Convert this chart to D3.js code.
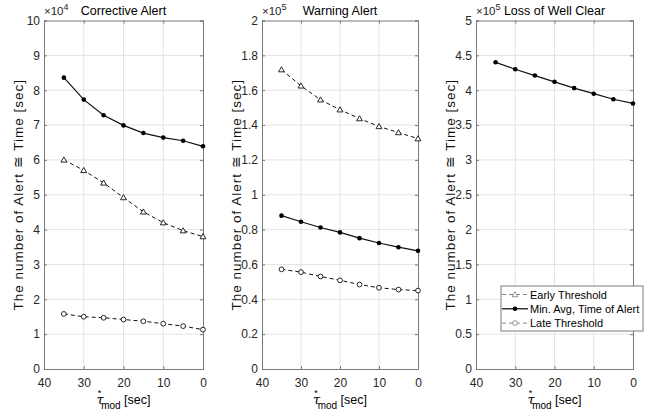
<!DOCTYPE html>
<meta charset="utf-8">
<style>
body { margin: 0; background: #fff; }
svg { font-family: "Liberation Sans", Arial, Helvetica, sans-serif; }
.grid line { stroke: #e3e3e3; stroke-width: 1; }
.axis text { fill: #262626; font-size: 12px; }
.axis line, .axis path { stroke: #7a7a7a; }
</style>
<svg width="660" height="416"></svg>
<script src="https://d3js.org/d3.v7.min.js"></script>
<script>

// tau* values (sec)
var tau = [35, 30, 25, 20, 15, 10, 5, 0];
var xTicks = [40, 30, 20, 10, 0];

// Corrective Alert (x 1e4)
var corrEarly = [6.00, 5.70, 5.34, 4.92, 4.51, 4.20, 3.97, 3.80];
var corrMin   = [8.36, 7.73, 7.28, 6.99, 6.77, 6.64, 6.55, 6.39];
var corrLate  = [1.58, 1.50, 1.47, 1.42, 1.37, 1.30, 1.23, 1.13];

// Warning Alert (x 1e5)
var warnEarly = [1.718, 1.625, 1.545, 1.488, 1.437, 1.392, 1.357, 1.322];
var warnMin   = [0.880, 0.845, 0.812, 0.784, 0.751, 0.723, 0.699, 0.678];
var warnLate  = [0.572, 0.556, 0.531, 0.509, 0.485, 0.466, 0.456, 0.450];

// Loss of Well Clear (x 1e5)
var lowcMin = [4.40, 4.30, 4.21, 4.12, 4.03, 3.95, 3.87, 3.81];

var titles = ["Corrective Alert", "Warning Alert", "Loss of Well Clear"];
var exponents = ["4", "5", "5"];
var yMax = [10, 2, 5];
var yStep = [1, 0.2, 0.5];
var legendNames = ["Early Threshold", "Min. Avg, Time of Alert", "Late Threshold"];

var panels = [
  { series: [{v: corrEarly, k: "early"}, {v: corrMin, k: "min"}, {v: corrLate, k: "late"}], left: 44, right: 203 },
  { series: [{v: warnEarly, k: "early"}, {v: warnMin, k: "min"}, {v: warnLate, k: "late"}], left: 262, right: 418 },
  { series: [{v: lowcMin, k: "min"}], left: 476, right: 633 }
];

var svg = d3.select("svg");
var plotTop = 20.5, plotBottom = 369;

var line = function(x, y) {
  return d3.line().x(function(d, i) { return x(tau[i]); }).y(function(d) { return y(d); });
};

function drawMarker(g, kind, cx, cy, col) {
  col = col || "#111";
  if (kind == "early") {
    g.append("path")
      .attr("d", d3.symbol().type(d3.symbolTriangle).size(15)())
      .attr("transform", "translate(" + cx + "," + (cy + 0.5) + ")")
      .attr("fill", "#fff").attr("stroke", col).attr("stroke-width", 0.9);
  } else if (kind == "late") {
    g.append("circle").attr("cx", cx).attr("cy", cy).attr("r", 2.4)
      .attr("fill", "#fff").attr("stroke", col).attr("stroke-width", 0.9);
  } else {
    g.append("circle").attr("cx", cx).attr("cy", cy).attr("r", 2.3)
      .attr("fill", "#000");
  }
}

panels.forEach(function(p, pi) {
  var x = d3.scaleLinear().domain([40, 0]).range([p.left, p.right]);
  var y = d3.scaleLinear().domain([0, yMax[pi]]).range([plotBottom, plotTop]);
  var yTicks = d3.range(0, yMax[pi] + yStep[pi] / 2, yStep[pi]);
  var g = svg.append("g");

  // grid
  var grid = g.append("g").attr("class", "grid");
  grid.selectAll(".gx").data(xTicks.slice(1, -1)).enter().append("line")
    .attr("x1", function(d) { return x(d); }).attr("x2", function(d) { return x(d); })
    .attr("y1", plotTop).attr("y2", plotBottom);
  grid.selectAll(".gy").data(yTicks.slice(1, -1)).enter().append("line")
    .attr("y1", function(d) { return y(d); }).attr("y2", function(d) { return y(d); })
    .attr("x1", p.left).attr("x2", p.right);

  // axes (ticks inward)
  var fmt = function(d) { return +d.toFixed(1) + ""; };
  g.append("g").attr("class", "axis").attr("transform", "translate(0," + plotBottom + ")")
    .call(d3.axisBottom(x).tickValues(xTicks).tickSize(-3).tickPadding(8))
    .call(function(s) { s.selectAll("text").attr("dy", "0.85em"); });
  g.append("g").attr("class", "axis").attr("transform", "translate(0," + plotTop + ")")
    .call(d3.axisTop(x).tickValues(xTicks).tickSize(-3).tickFormat(""));
  g.append("g").attr("class", "axis").attr("transform", "translate(" + p.left + ",0)")
    .call(d3.axisLeft(y).tickValues(yTicks).tickSize(-3).tickPadding(4).tickFormat(fmt));
  g.append("g").attr("class", "axis").attr("transform", "translate(" + p.right + ",0)")
    .call(d3.axisRight(y).tickValues(yTicks).tickSize(-3).tickFormat(""));

  // series
  p.series.forEach(function(s) {
    g.append("path").datum(s.v)
      .attr("d", line(x, y))
      .attr("fill", "none")
      .attr("stroke", "#111")
      .attr("stroke-width", s.k == "min" ? 1.2 : 1)
      .attr("stroke-dasharray", s.k == "min" ? null : "4,3");
    s.v.forEach(function(d, i) { drawMarker(g, s.k, x(tau[i]), y(d)); });
  });

  // exponent label
  var ex = g.append("text").attr("x", p.left).attr("y", 15)
    .attr("fill", "#262626").attr("font-size", "11.5px");
  ex.append("tspan").text("\u00d710");
  ex.append("tspan").attr("dy", -5).attr("font-size", "9px").text(exponents[pi]);

  // title
  g.append("text").attr("x", (p.left + p.right) / 2).attr("y", 15)
    .attr("text-anchor", "middle").attr("font-size", "12.5px").attr("fill", "#000")
    .text(titles[pi]);

  // y label
  g.append("text")
    .attr("transform", "translate(" + (p.left - 21) + "," + ((plotTop + plotBottom) / 2) + ") rotate(-90)")
    .attr("text-anchor", "middle").attr("font-size", "13.5px").attr("fill", "#111")
    .attr("letter-spacing", "1px")
    .text("The number of Alert  \u2245 Time [sec]");

  // x label: tau* with "mod" subscript
  var cx = (p.left + p.right) / 2;
  var xl = g.append("text").attr("x", cx).attr("y", 404)
    .attr("text-anchor", "middle").attr("fill", "#000");
  xl.append("tspan").attr("font-style", "italic").attr("font-size", "13px")
    .attr("font-family", "'DejaVu Serif', serif").text("\u03c4");
  xl.append("tspan").attr("dx", -6).attr("dy", -8).attr("font-size", "9px").text("*");
  xl.append("tspan").attr("dx", 0).attr("dy", 13).attr("font-size", "10px").text("mod");
  xl.append("tspan").attr("dy", -5).attr("font-size", "12.5px").text(" [sec]");
});

// legend in the third panel
var lg = svg.append("g").attr("transform", "translate(501,286)");
lg.append("rect").attr("width", 142).attr("height", 45)
  .attr("fill", "#fff").attr("stroke", "#7a7a7a").attr("stroke-width", 1);
["early", "min", "late"].forEach(function(k, i) {
  var yy = 8.5 + i * 14.3;
  lg.append("line").attr("x1", 1).attr("x2", 27).attr("y1", yy).attr("y2", yy)
    .attr("stroke", k == "min" ? "#000" : "#888")
    .attr("stroke-width", k == "min" ? 1.2 : 1)
    .attr("stroke-dasharray", k == "min" ? null : "4,3");
  drawMarker(lg, k, 14, yy, "#888");
  lg.append("text").attr("x", 29).attr("y", yy + 4).attr("font-size", "11px")
    .attr("fill", "#000").text(legendNames[i]);
});
</script>
